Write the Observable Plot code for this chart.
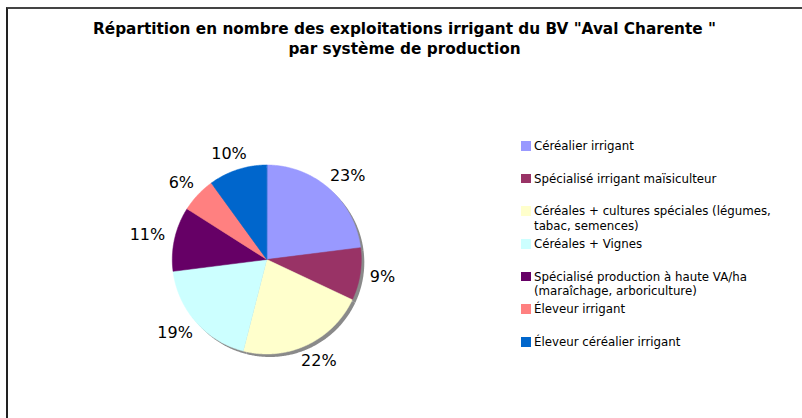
<!DOCTYPE html>
<html><head><meta charset="utf-8">
<script src="https://cdn.jsdelivr.net/npm/d3@7"></script>
<script src="https://cdn.jsdelivr.net/npm/@observablehq/plot@0.6"></script>
<style>
body{margin:0;background:#fff;}
#wrap{position:relative;width:802px;height:418px;overflow:hidden;font-family:"DejaVu Sans",Verdana,sans-serif;color:#000;}
#frame{position:absolute;left:6px;top:7px;width:900px;height:500px;border-left:2px solid #222;border-top:2px solid #444;}
#chart{position:absolute;left:0;top:0;}
#title{position:absolute;left:7px;width:795px;top:19px;text-align:center;font-weight:bold;font-size:15.3px;line-height:20px;white-space:pre;}
.leg{position:absolute;left:521px;display:flex;align-items:flex-start;font-size:11.8px;line-height:14.5px;width:262px;}
.sw{width:10px;height:9.5px;margin-top:2px;margin-right:3px;flex:none;}
</style></head><body>
<div id="wrap"><div id="frame"></div><div id="chart"></div><div id="title"></div><div id="legend"></div></div>
<script>
const titleLines = ["Répartition en nombre des exploitations irrigant du BV \"Aval Charente \"", "par système de production"];
const categories = [
  "Céréalier irrigant",
  "Spécialisé irrigant maïsiculteur",
  "Céréales + cultures spéciales (légumes, tabac, semences)",
  "Céréales + Vignes",
  "Spécialisé production à haute VA/ha (maraîchage, arboriculture)",
  "Éleveur irrigant",
  "Éleveur céréalier irrigant"
];
const shares = [23, 9, 22, 19, 11, 6, 10];
const colors = ["#9999FF", "#993366", "#FFFFCC", "#CCFFFF", "#660066", "#FF8080", "#0066CC"];

// layout
const W = 802, H = 418, cx = 266.3, cy = 259, R = 94.5;

document.getElementById("title").textContent = titleLines.join("\n");

const arcs = d3.pie().sort(null).value(d => d)(shares);
const pts = [];
arcs.forEach((a, i) => {
  pts.push({k: categories[i], x: 0, y: 0});
  const n = Math.max(2, Math.ceil((a.endAngle - a.startAngle) / 0.01));
  for (let j = 0; j <= n; j++) {
    const t = a.startAngle + (a.endAngle - a.startAngle) * j / n;
    pts.push({k: categories[i], x: Math.sin(t), y: Math.cos(t)});
  }
});
const gap = 10;
const labels = arcs.map((a, i) => {
  const m = (a.startAngle + a.endAngle) / 2;
  const txt = shares[i] + "%";
  const hw = ((txt.length - 1) * 10.2 + 15.2) / 2, hh = 7;
  return {
    x: Math.sin(m) * (R + gap + hw) / R,
    y: Math.cos(m) * (R + gap + hh) / R,
    t: txt
  };
});

const chart = Plot.plot({
  width: W, height: H,
  marginTop: 0, marginRight: 0, marginBottom: 0, marginLeft: 0,
  style: {fontFamily: "DejaVu Sans, Verdana, sans-serif", background: "transparent", overflow: "visible"},
  x: {domain: [-cx / R, (W - cx) / R], axis: null},
  y: {domain: [-(H - cy) / R, cy / R], axis: null},
  color: {domain: categories, range: colors},
  marks: [
    Plot.line(pts, {x: "x", y: "y", z: "k", fill: "#8a8a8a", stroke: "none", dx: 3, dy: 3, curve: "linear-closed"}),
    Plot.line(pts, {x: "x", y: "y", z: "k", fill: "k", stroke: "k", strokeWidth: 0.5, curve: "linear-closed"}),
    Plot.text(labels, {x: "x", y: "y", text: "t", fontSize: 16, fill: "#000"})
  ]
});
document.getElementById("chart").appendChild(chart);

const leg = document.getElementById("legend");
categories.forEach((c, i) => {
  const d = document.createElement("div");
  d.className = "leg";
  d.style.top = (141 + i * 32.67 - 2) + "px";
  const s = document.createElement("div");
  s.className = "sw";
  s.style.background = colors[i];
  const t = document.createElement("div");
  t.textContent = c;
  d.appendChild(s); d.appendChild(t);
  leg.appendChild(d);
});
</script>
</body></html>
